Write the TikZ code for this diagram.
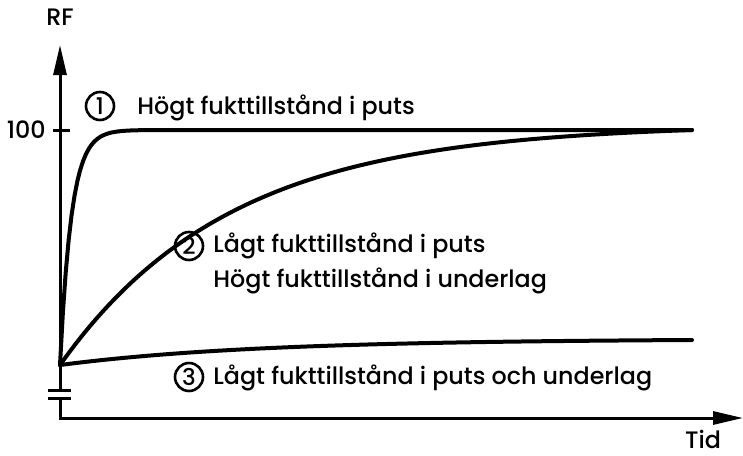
\documentclass[tikz,border=0pt]{standalone}
\usepackage{fontspec}
\setmainfont{Poppins}[UprightFont=* Medium]
\usetikzlibrary{arrows.meta}

\tikzset{
  axis/.style={line width=1.5pt, -{Triangle[length=15pt,width=6.5pt]}},
  plain/.style={line width=1.5pt},
  curve/.style={line width=2pt, line cap=round},
  lbl/.style={font=\fontsize{11.9}{15}\selectfont, inner sep=0pt, anchor=west},
  num/.style={circle, draw, line width=1.3pt, minimum size=14pt, inner sep=0pt, font=\fontsize{11.5}{13}\selectfont}
}

\begin{document}
\begin{tikzpicture}[x=0.5pt,y=-0.5pt]
  \useasboundingbox (0,0) rectangle (743,455);

  % axes
  \coordinate (O) at (60,418);
  \coordinate (brkA) at (60,398);
  \coordinate (brkB) at (60,390);
  \coordinate (start) at (60,365);
  \coordinate (ytop) at (60,45);
  \coordinate (xtop) at (743,418);
  \draw[axis] (brkA) -- (O) -- (xtop);
  \draw[axis] (brkB) -- (ytop);
  \foreach \y in {390,398} {
    \draw[plain] (48,\y) -- (71,\y);
  }
  \draw[plain] (53,130) -- (70,130);

  \node[lbl, anchor=east] (hundred) at (46,130) {100};
  \node[lbl, anchor=center] (rf) at (60,17) {RF};
  \node[lbl, anchor=center] (tid) at (703,439) {Tid};

  % curves
  \draw[curve] plot[domain=60:692, samples=220] (\x, {365-235*(1-exp(-(\x-60)/11.4))});
  \draw[curve] plot[domain=60:692, samples=120] (\x, {365-235*(1-exp(-(\x-60)/170))/(1-exp(-632/170))});
  \draw[curve] plot[domain=60:692, samples=60] (\x, {365-25*(1-exp(-(\x-60)/200))/(1-exp(-632/200))});

  % labels
  \node[num] (c1) at (100,106) {1};
  \node[lbl] (t1) at (137,108) {Högt fukttillstånd i puts};
  \node[num] (c2) at (189,246) {2};
  \node[lbl] (t2a) at (213,246) {Lågt fukttillstånd i puts};
  \node[lbl] (t2b) at (213,281) {Högt fukttillstånd i underlag};
  \node[num] (c3) at (189,377) {3};
  \node[lbl] (t3) at (213,378) {Lågt fukttillstånd i puts och underlag};
\end{tikzpicture}
\end{document}
